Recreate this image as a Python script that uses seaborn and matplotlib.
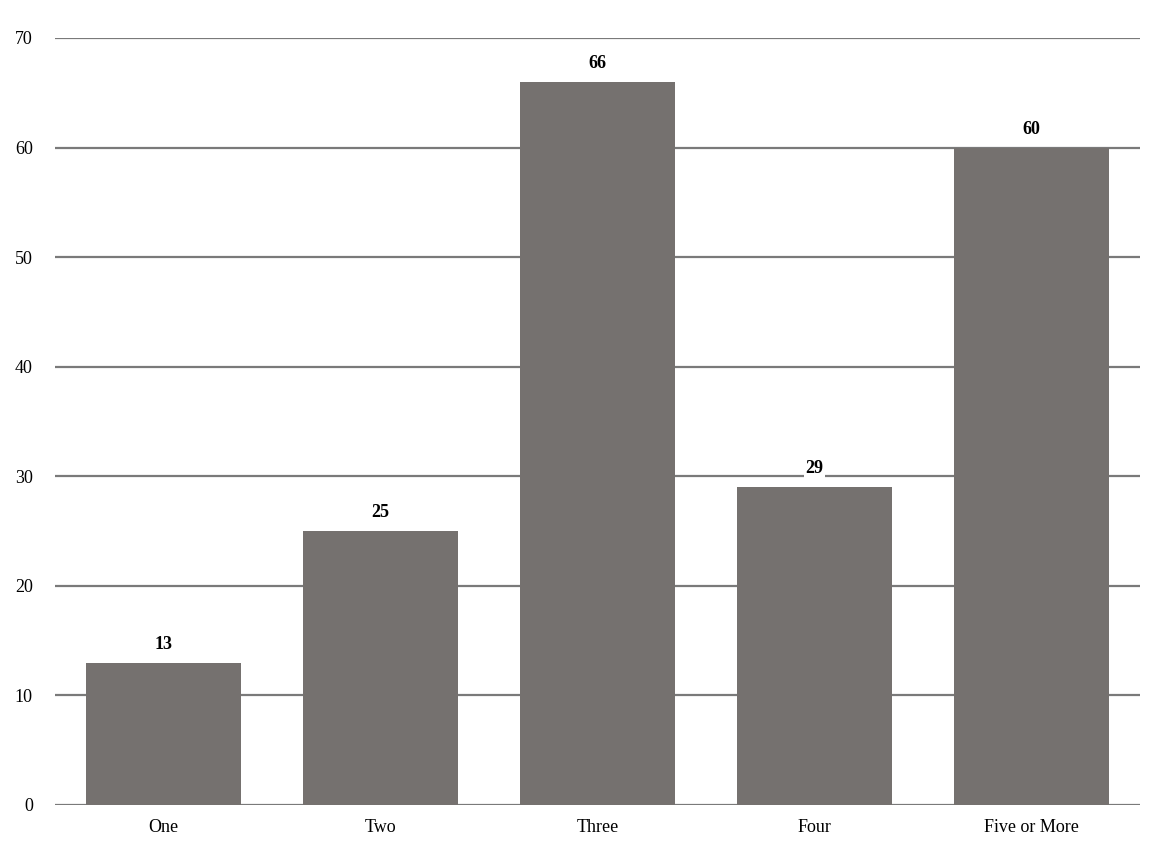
import matplotlib
matplotlib.use('Agg')
import matplotlib.pyplot as plt
import seaborn as sns
import pandas as pd

# dados do grafico
categorias = ['One', 'Two', 'Three', 'Four', 'Five or More']
valores = [13, 25, 66, 29, 60]

df = pd.DataFrame({'Categoria': categorias, 'Valor': valores})

sns.set_style('white')
plt.rcParams['font.family'] = ['Liberation Serif', 'DejaVu Serif']

fig = plt.figure(figsize=(11.55, 8.65), dpi=100)
ax = fig.add_axes([0.0476, 0.0694, 0.9394, 0.8867])

sns.barplot(x='Categoria', y='Valor', data=df, color='#75716f', saturation=1,
            width=0.715, linewidth=0, ax=ax, zorder=3)

ax.set_ylim(0, 70)
ax.set_yticks(range(0, 71, 10))
ax.set_xlim(-0.5, 4.5)
ax.yaxis.grid(True, color='#7a7a7a', linewidth=1.6, zorder=0)
ax.xaxis.grid(False)
for s in ax.spines.values():
    s.set_visible(False)
ax.tick_params(axis='both', length=0, labelsize=13, colors='black')
ax.tick_params(axis='y', pad=16)
ax.tick_params(axis='x', pad=10)
ax.set_xlabel('')
ax.set_ylabel('')

# rotulos acima das barras
for i, v in enumerate(valores):
    ax.text(i, v + 0.9, str(v), ha='center', va='bottom', fontsize=13,
            fontweight='bold', color='black', zorder=4,
            bbox=dict(facecolor='white', edgecolor='none', pad=1))

fig.savefig('out.png', dpi=100)
